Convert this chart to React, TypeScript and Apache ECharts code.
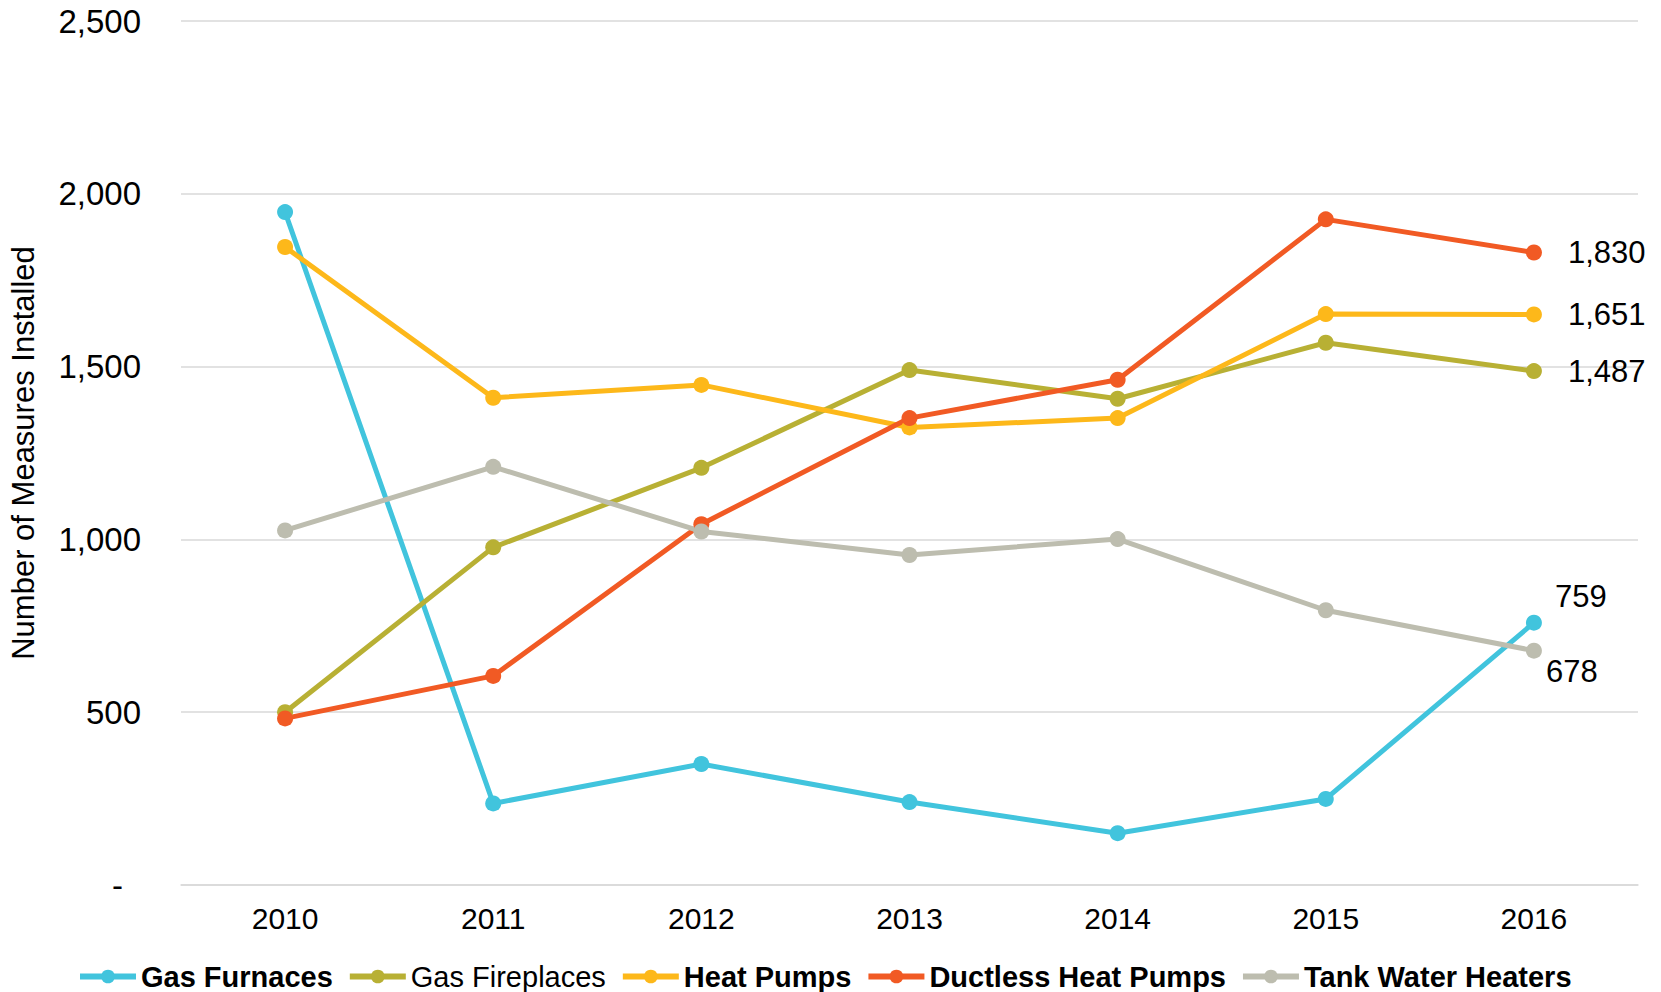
import React, { useEffect, useRef } from "react";
import * as echarts from "echarts";

const years = ["2010", "2011", "2012", "2013", "2014", "2015", "2016"];
const gasFurnaces = [1947, 236, 350, 240, 150, 249, 759];
const gasFireplaces = [500, 977, 1207, 1490, 1407, 1569, 1487];
const heatPumps = [1846, 1410, 1447, 1324, 1351, 1652, 1651];
const ductless = [482, 605, 1044, 1351, 1462, 1926, 1830];
const tankWater = [1026, 1210, 1023, 955, 1001, 795, 678];
const yTicks = [0, 500, 1000, 1500, 2000, 2500];

const FONT = "'Liberation Sans', Arial, sans-serif";

const fmt = (v: number) => (v === 0 ? "-" : v.toLocaleString("en-US"));

export default function App() {
  const ref = useRef<HTMLDivElement>(null);
  useEffect(() => {
    if (!ref.current) return;
    const chart = echarts.init(ref.current, null, { renderer: "svg" });

    const mk = (
      name: string,
      color: string,
      values: number[],
      lastLabel: any
    ) => ({
      name,
      type: "line",
      data: values.map((v, i) =>
        i === values.length - 1
          ? {
              value: v,
              label: {
                show: true,
                formatter: (p: any) => fmt(p.value),
                fontSize: 31,
                fontFamily: FONT,
                color: "#000",
                ...lastLabel,
              },
            }
          : v
      ),
      symbol: "circle",
      symbolSize: 16,
      lineStyle: { color, width: 5 },
      itemStyle: { color },
      emphasis: { disabled: true },
    });

    chart.setOption({
      animation: false,
      grid: { left: 174, right: 23, top: 21, bottom: 107 },
      xAxis: {
        type: "category",
        data: years,
        boundaryGap: true,
        axisLine: { show: true, lineStyle: { color: "#D9D9D9", width: 1.5 } },
        axisTick: { show: false },
        axisLabel: {
          fontSize: 30,
          fontFamily: FONT,
          color: "#000",
          margin: 18,
        },
      },
      yAxis: {
        type: "value",
        min: 0,
        max: 2500,
        interval: 500,
        name: "Number of Measures Installed",
        nameLocation: "middle",
        nameGap: 142,
        nameTextStyle: { fontSize: 31, fontFamily: FONT, color: "#000" },
        axisLine: { show: false },
        axisTick: { show: false },
        splitLine: { lineStyle: { color: "#D9D9D9", width: 1.5 } },
        axisLabel: {
          fontSize: 33,
          fontFamily: FONT,
          color: "#000",
          margin: 40,
          formatter: (v: number) =>
            yTicks.includes(v) ? (v === 0 ? "{d|-}" : fmt(v)) : "",
          rich: {
            d: { fontSize: 33, fontFamily: FONT, color: "#000", padding: [0, 18, 0, 0] },
          },
        },
      },
      legend: {
        left: 72,
        top: 957,
        itemWidth: 56,
        itemHeight: 17,
        itemGap: 14,
        lineStyle: { width: 6 },
        textStyle: { fontSize: 29, fontFamily: FONT, color: "#000", fontWeight: "bold" },
        data: [
          { name: "Gas Furnaces" },
          { name: "Gas Fireplaces", textStyle: { fontWeight: "normal" } },
          { name: "Heat Pumps" },
          { name: "Ductless Heat Pumps" },
          { name: "Tank Water Heaters" },
        ],
      },
      series: [
        mk("Gas Furnaces", "#41C4DD", gasFurnaces, { position: "top", offset: [47, 2] }),
        mk("Gas Fireplaces", "#B8B034", gasFireplaces, { position: "right", distance: 26 }),
        mk("Heat Pumps", "#FDB81A", heatPumps, { position: "right", distance: 26 }),
        mk("Ductless Heat Pumps", "#F15A24", ductless, { position: "right", distance: 26 }),
        mk("Tank Water Heaters", "#BDBDAF", tankWater, { position: "bottom", offset: [38, -8] }),
      ],
    });
    return () => chart.dispose();
  }, []);
  return (
    <div style={{ position: "fixed", left: 0, top: 0, width: 1661, height: 992, background: "#fff" }}>
      <div ref={ref} style={{ width: 1661, height: 992 }} />
    </div>
  );
}
